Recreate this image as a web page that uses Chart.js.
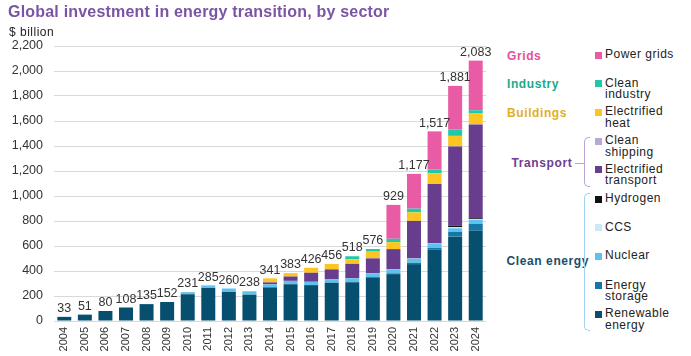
<!DOCTYPE html>
<html><head><meta charset="utf-8">
<script src="https://cdn.jsdelivr.net/npm/chart.js@4.4.1/dist/chart.umd.min.js"></script>
<style>
html,body{margin:0;padding:0;background:#fff;width:691px;height:356px;overflow:hidden;font-family:'Liberation Sans',Arial,sans-serif;}
#wrap{position:relative;width:691px;height:356px;}
#c{position:absolute;left:0;top:0;}
.t{position:absolute;white-space:nowrap;}
#title{left:8px;top:2px;font-size:16px;line-height:20px;font-weight:bold;color:#7b54a3;letter-spacing:0.2px;}
#unit{left:9px;top:25px;font-size:12px;line-height:14px;color:#222;letter-spacing:0.5px;}
.li{position:absolute;left:605px;font-size:12px;line-height:11.5px;color:#222;letter-spacing:0.5px;white-space:nowrap;}
.sq{position:absolute;left:595px;width:7px;height:7px;}
.gl{position:absolute;font-size:12px;line-height:11px;font-weight:bold;letter-spacing:0.6px;white-space:nowrap;}
.br{position:absolute;border:1px solid;border-right:none;border-radius:5px 0 0 5px;width:5px;}
</style></head><body>
<div id="wrap">
<canvas id="c" width="500" height="356"></canvas>
<div class="t" id="title">Global investment in energy transition, by sector</div>
<div class="t" id="unit">$ billion</div>
<div id="legend"></div>
</div>
<script>
const years = ['2004','2005','2006','2007','2008','2009','2010','2011','2012','2013','2014','2015','2016','2017','2018','2019','2020','2021','2022','2023','2024'];
const totals = [33,51,80,108,135,152,231,285,260,238,341,383,426,456,518,576,929,1177,1517,1881,2083];
const renewable = [33,51,80,108,135,152,214,264,232,210,269,294,287,306,310,349,375,455,570,675,722];
const storage   = [0,0,0,0,0,0,0,0,0,0,0,0,0,0,1,3,6,10,15,37,54];
const nuclear   = [0,0,0,0,0,0,17,21,28,28,24,27,27,27,31,28,33,33,33,30,32];
const ccs       = [0,0,0,0,0,0,0,0,0,0,0,0,0,0,0,1,1,2,3,10,6];
const hydrogen  = [0,0,0,0,0,0,0,0,0,0,0,0,0,0,0,0,0,1,2,10,8];
const transport = [0,0,0,0,0,0,0,0,0,0,16,35,72,80,115,120,160,300,473,635,751];
const shipping  = [0,0,0,0,0,0,0,0,0,0,0,0,0,0,0,0,0,0,0,1,1];
const heat      = [0,0,0,0,0,0,0,0,0,0,32,27,40,43,37,54,56,68,85,83,86];
const industry  = [0,0,0,0,0,0,0,0,0,0,0,0,0,0,24,21,27,30,32,50,26];
const grids     = [0,0,0,0,0,0,0,0,0,0,0,0,0,0,0,0,271,278,304,350,397];
const yMax = 2200, yStep = 200;

const series = [
  {label:'Renewable energy', data:renewable, color:'#064f6e'},
  {label:'Energy storage', data:storage, color:'#1477a8'},
  {label:'Nuclear', data:nuclear, color:'#5ec2ee'},
  {label:'CCS', data:ccs, color:'#cbeaf9'},
  {label:'Hydrogen', data:hydrogen, color:'#111111'},
  {label:'Electrified transport', data:transport, color:'#693d8e'},
  {label:'Clean shipping', data:shipping, color:'#b9a7d8'},
  {label:'Electrified heat', data:heat, color:'#fcc51f'},
  {label:'Clean industry', data:industry, color:'#1fc9a7'},
  {label:'Power grids', data:grids, color:'#e95ba4'}
];

const FONT = "'Liberation Sans', Arial, sans-serif";
Chart.defaults.font.family = FONT;

const totalsPlugin = {
  id:'totals',
  afterDatasetsDraw(chart){
    const {ctx, scales:{x,y}} = chart;
    ctx.save();
    ctx.font = "12.5px " + FONT;
    ctx.fillStyle = '#333';
    ctx.textAlign = 'center';
    ctx.textBaseline = 'bottom';
    totals.forEach((t,i)=>{
      ctx.fillText(t.toLocaleString('en-US'), x.getPixelForValue(i), y.getPixelForValue(t) - 2);
    });
    ctx.restore();
  }
};

new Chart(document.getElementById('c'), {
  type:'bar',
  data:{labels:years, datasets:series.map(s=>({label:s.label, data:s.data, backgroundColor:s.color, borderWidth:0}))},
  options:{
    responsive:false, animation:false,
    layout:{padding:{top:46,right:14,left:0,bottom:0}},
    plugins:{legend:{display:false}, tooltip:{enabled:false}},
    datasets:{bar:{categoryPercentage:1, barPercentage:0.68}},
    scales:{
      x:{stacked:true, grid:{display:false, drawTicks:false}, border:{display:false},
         ticks:{minRotation:90, maxRotation:90, padding:6, autoSkip:false, font:{size:11}, color:'#333'},
         afterFit(s){s.height = 35;}},
      y:{stacked:true, min:0, max:yMax,
         ticks:{stepSize:yStep, padding:11, font:{size:12.5}, color:'#333', callback:v=>v.toLocaleString('en-US')},
         grid:{color:'#d9d9d9', drawTicks:false}, border:{display:false},
         afterFit(s){s.width = 54;}}
    }
  },
  plugins:[totalsPlugin]
});

// legend (HTML)
const legendPos = [
  {label:'Power grids', lines:['Power grids'], y:55},
  {label:'Clean industry', lines:['Clean','industry'], y:83.5},
  {label:'Electrified heat', lines:['Electrified','heat'], y:112},
  {label:'Clean shipping', lines:['Clean','shipping'], y:141},
  {label:'Electrified transport', lines:['Electrified','transport'], y:169.5},
  {label:'Hydrogen', lines:['Hydrogen'], y:199},
  {label:'CCS', lines:['CCS'], y:227.5},
  {label:'Nuclear', lines:['Nuclear'], y:256},
  {label:'Energy storage', lines:['Energy','storage'], y:285.5},
  {label:'Renewable energy', lines:['Renewable','energy'], y:314}
];
const groups = [
  {text:'Grids', color:'#e4509a', x:507, y:56.5},
  {text:'Industry', color:'#1aa88c', x:507, y:84.3},
  {text:'Buildings', color:'#e3b020', x:507, y:113.3},
  {text:'Transport', color:'#6b3f8f', x:511.5, y:163.3},
  {text:'Clean energy', color:'#1b4e6b', x:506.5, y:261}
];
const lg = document.getElementById('legend');
legendPos.forEach(p=>{
  const s = series.find(q=>q.label===p.label);
  const sq = document.createElement('div');
  sq.className='sq'; sq.style.top=(p.y-3.5)+'px'; sq.style.background=s.color;
  lg.appendChild(sq);
  const d = document.createElement('div');
  d.className='li'; d.style.top=(p.y-5.75)+'px'; d.innerHTML=p.lines.join('<br>');
  lg.appendChild(d);
});
groups.forEach(g=>{
  const d = document.createElement('div');
  d.className='gl'; d.style.left=g.x+'px'; d.style.top=(g.y-5.5)+'px'; d.style.color=g.color; d.textContent=g.text;
  lg.appendChild(d);
});
// brackets
const b1 = document.createElement('div'); b1.className='br';
b1.style.cssText += 'left:584px;top:137px;height:48px;border-color:#b9a6d8;';
lg.appendChild(b1);
const c1 = document.createElement('div');
c1.style.cssText = 'position:absolute;left:575px;top:162.5px;width:9px;height:1px;background:#b9a6d8;';
lg.appendChild(c1);
const b2 = document.createElement('div'); b2.className='br';
b2.style.cssText += 'left:584px;top:193px;height:136px;border-color:#9fd2ee;';
lg.appendChild(b2);
</script>
</body></html>
